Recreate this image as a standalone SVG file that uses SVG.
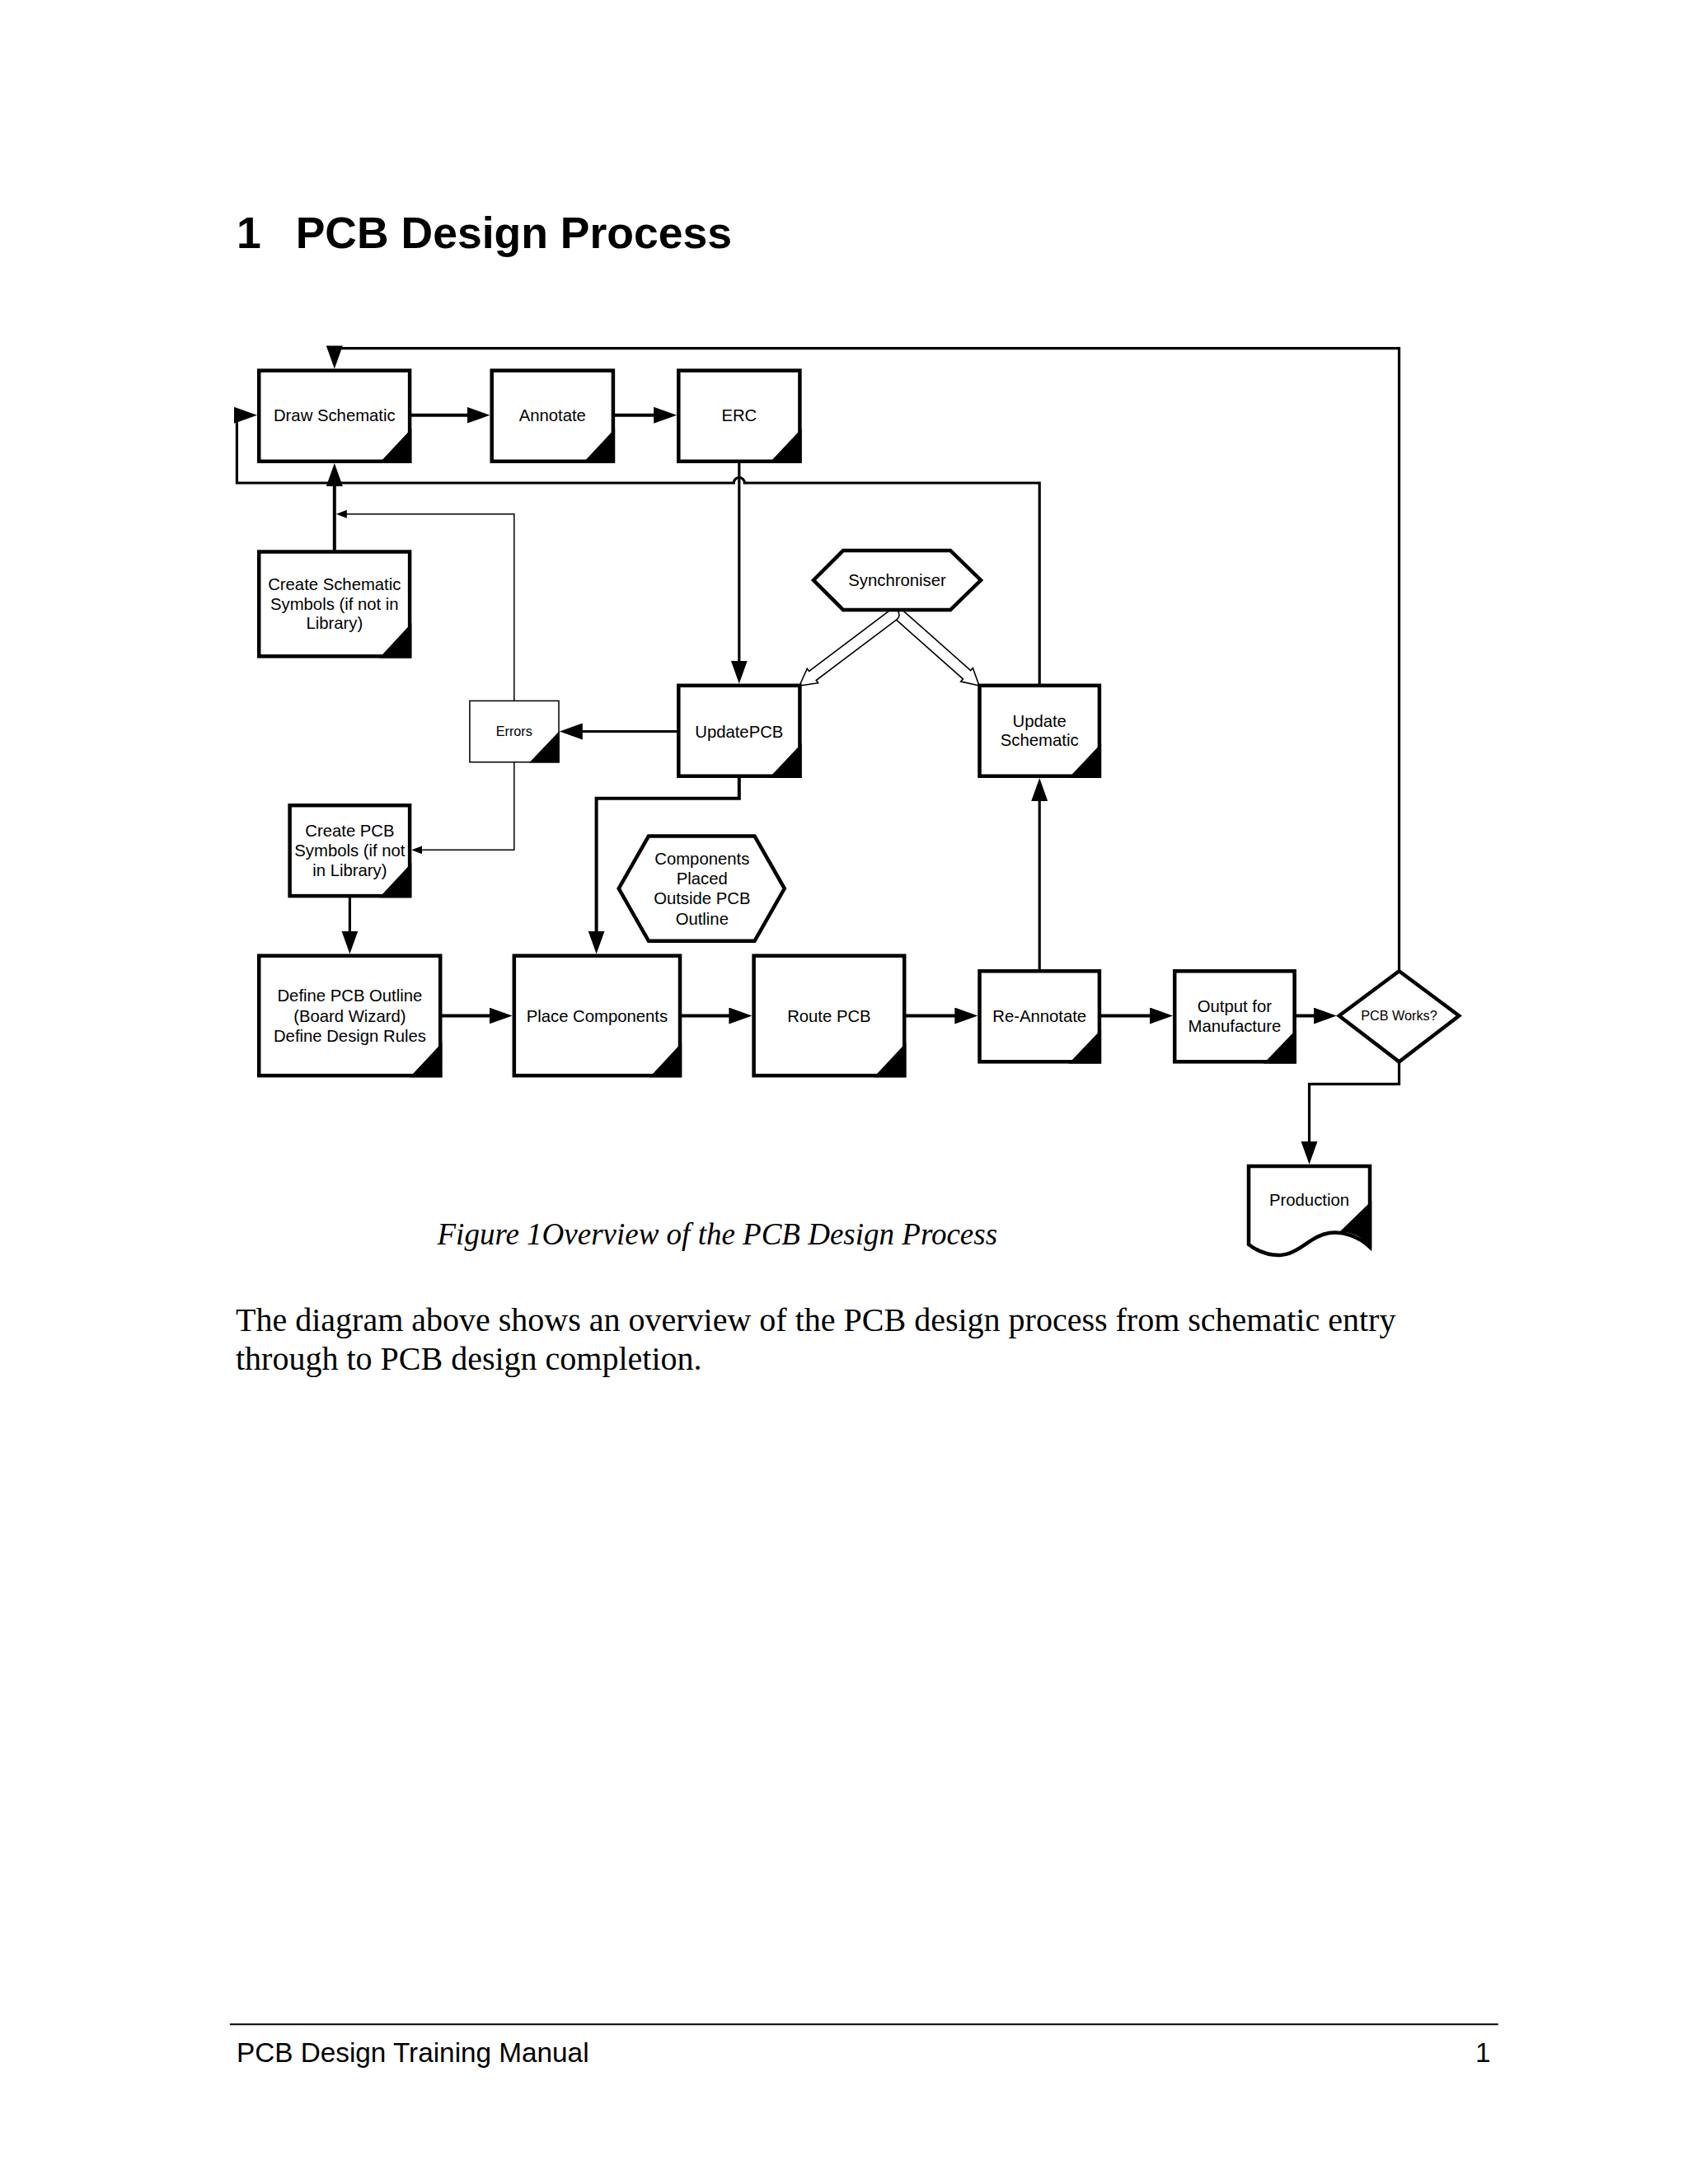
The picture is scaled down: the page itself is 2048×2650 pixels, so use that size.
<svg xmlns="http://www.w3.org/2000/svg" width="2048" height="2650" viewBox="0 0 2048 2650">
<style>
.box{fill:#fff;stroke:#000;stroke-width:4.5}
.tbox{fill:#fff;stroke:#000;stroke-width:1.5}
.tri{fill:#000;stroke:none}
.lbl{font-family:"Liberation Sans",Arial,sans-serif;font-size:20.3px;text-anchor:middle;fill:#000}
.sm{font-size:16.2px}
.c{fill:none;stroke:#000;stroke-width:4}
.c3{fill:none;stroke:#000;stroke-width:3.2}
.thin{fill:none;stroke:#000;stroke-width:1.5}
.hol{fill:#fff;stroke:#000;stroke-width:1.6;stroke-linejoin:miter}
</style>
<defs>
<marker id="ah" markerUnits="userSpaceOnUse" markerWidth="30" markerHeight="22" refX="6" refY="10" orient="auto">
<path d="M0,0 L28,10 L0,20 z" fill="#000"/>
</marker>
<marker id="ahs" markerUnits="userSpaceOnUse" markerWidth="14" markerHeight="12" refX="3" refY="5" orient="auto">
<path d="M0,0 L13,5 L0,10 z" fill="#000"/>
</marker>
</defs>
<rect x="0" y="0" width="2048" height="2650" fill="#fff"/>

<text x="287" y="301" font-family="Liberation Sans,Arial,sans-serif" font-weight="bold" font-size="53.5">1</text>
<text x="358.7" y="301" font-family="Liberation Sans,Arial,sans-serif" font-weight="bold" font-size="53.5">PCB Design Process</text>

<g id="connectors">
<path class="c3" d="M1697.5,1178.3 V422.7 H405.8 V425.4" marker-end="url(#ah)"/>
<path class="c" d="M497.1,503.8 H572.5" marker-end="url(#ah)"/>
<path class="c" d="M743.9,503.8 H799.1" marker-end="url(#ah)"/>
<path class="c3" d="M1261.2,831.8 V586 H903.3 a6.5,6.5 0 0 0 -13,0 H287.4 V503.8 H290" marker-end="url(#ah)"/>
<path class="c3" d="M896.8,559.8 V807.6" marker-end="url(#ah)"/>
<path class="c" d="M405.8,669.5 V584" marker-end="url(#ah)"/>
<path class="thin" d="M623.8,850.4 V623.8 H417.8" marker-end="url(#ahs)"/>
<path class="c3" d="M823.3,887.5 H700.8" marker-end="url(#ah)"/>
<path class="thin" d="M623.8,924.7 V1031.3 H509.3" marker-end="url(#ahs)"/>
<path class="c" d="M896.8,941.7 V968.7 H723.6 V1135.5" marker-end="url(#ah)"/>
<path class="c3" d="M424.4,1087.1 V1135.5" marker-end="url(#ah)"/>
<path class="c" d="M534.2,1232.5 H599.6" marker-end="url(#ah)"/>
<path class="c" d="M825,1232.5 H890.4" marker-end="url(#ah)"/>
<path class="c" d="M1097.2,1232.5 H1164.3" marker-end="url(#ah)"/>
<path class="c" d="M1333.9,1232.5 H1401" marker-end="url(#ah)"/>
<path class="c" d="M1570.6,1232.5 H1599.7" marker-end="url(#ah)"/>
<path class="c3" d="M1261.2,1178.3 V965.9" marker-end="url(#ah)"/>
<path class="c3" d="M1697.5,1288.3 V1315.4 H1588.5 V1390.8" marker-end="url(#ah)"/>
<path class="hol" d="M1095.6,740.8 L1177.7,813.5 L1180.3,810.5 L1188,832 L1165.7,826.9 L1168.4,823.9 L1086.4,751.2 A7,7 0 0 1 1095.6,740.8 Z"/>
<path class="hol" d="M1079.8,740.4 L981.7,814.4 L979.3,811.2 L970,832 L992.6,828.7 L990.2,825.5 L1088.2,751.6 A7,7 0 0 0 1079.8,740.4 Z"/>
</g>

<g id="draw-schematic">
<rect class="box" x="314.2" y="449.6" width="182.9" height="110.2"/>
<polygon class="tri" points="460,562 499.3,520 499.3,562"/>
<text class="lbl" x="405.8" y="511.3">Draw Schematic</text>
</g>
<g id="annotate">
<rect class="box" x="596.7" y="449.6" width="147.2" height="110.2"/>
<polygon class="tri" points="707,562 746.1,520 746.1,562"/>
<text class="lbl" x="670.3" y="511.3">Annotate</text>
</g>
<g id="erc">
<rect class="box" x="823.3" y="449.6" width="147.1" height="110.2"/>
<polygon class="tri" points="933,562 972.6,520 972.6,562"/>
<text class="lbl" x="896.8" y="511.3">ERC</text>
</g>
<g id="create-schematic-symbols">
<rect class="box" x="314.2" y="669.5" width="182.9" height="126.8"/>
<polygon class="tri" points="460,798.5 499.3,756 499.3,798.5"/>
<text class="lbl" x="405.8" y="715.9">Create Schematic</text>
<text class="lbl" x="405.8" y="739.6">Symbols (if not in</text>
<text class="lbl" x="405.8" y="763.4">Library)</text>
</g>
<g id="synchroniser">
<polygon class="box" points="987,704 1023,668 1153,668 1190,704 1153,740 1023,740"/>
<text class="lbl" x="1088.5" y="711">Synchroniser</text>
</g>
<g id="errors">
<rect class="tbox" x="569.9" y="850.4" width="108.1" height="74.3"/>
<polygon class="tri" points="642,925.5 678.7,887 678.7,925.5"/>
<text class="lbl sm" x="623.8" y="893.2">Errors</text>
</g>
<g id="update-pcb">
<rect class="box" x="823.3" y="831.8" width="147.1" height="109.9"/>
<polygon class="tri" points="933,943.9 972.6,902 972.6,943.9"/>
<text class="lbl" x="896.8" y="895.2">UpdatePCB</text>
</g>
<g id="update-schematic">
<rect class="box" x="1188.5" y="831.8" width="145.4" height="109.9"/>
<polygon class="tri" points="1296.5,943.9 1336.1,902 1336.1,943.9"/>
<text class="lbl" x="1261.2" y="881.6">Update</text>
<text class="lbl" x="1261.2" y="905.3">Schematic</text>
</g>
<g id="create-pcb-symbols">
<rect class="box" x="351.6" y="977.2" width="145.5" height="109.9"/>
<polygon class="tri" points="460,1089.3 499.3,1047 499.3,1089.3"/>
<text class="lbl" x="424.4" y="1015">Create PCB</text>
<text class="lbl" x="424.4" y="1038.7">Symbols (if not</text>
<text class="lbl" x="424.4" y="1063">in Library)</text>
</g>
<g id="components-outside">
<polygon class="box" points="750.7,1078.1 787,1014.4 915.5,1014.4 951.8,1078.1 915.5,1141.8 787,1141.8"/>
<text class="lbl" x="851.8" y="1048.8">Components</text>
<text class="lbl" x="851.8" y="1073">Placed</text>
<text class="lbl" x="851.8" y="1097.3">Outside PCB</text>
<text class="lbl" x="851.8" y="1121.5">Outline</text>
</g>
<g id="define-pcb-outline">
<rect class="box" x="314.2" y="1159.7" width="220" height="145.4"/>
<polygon class="tri" points="497,1307.3 536.4,1265 536.4,1307.3"/>
<text class="lbl" x="424.4" y="1214.5">Define PCB Outline</text>
<text class="lbl" x="424.4" y="1239.8">(Board Wizard)</text>
<text class="lbl" x="424.4" y="1264">Define Design Rules</text>
</g>
<g id="place-components">
<rect class="box" x="623.8" y="1159.7" width="201.2" height="145.4"/>
<polygon class="tri" points="788,1307.3 827.2,1265 827.2,1307.3"/>
<text class="lbl" x="724.4" y="1239.8">Place Components</text>
</g>
<g id="route-pcb">
<rect class="box" x="914.6" y="1159.7" width="182.6" height="145.4"/>
<polygon class="tri" points="1060,1307.3 1099.4,1265 1099.4,1307.3"/>
<text class="lbl" x="1005.9" y="1239.8">Route PCB</text>
</g>
<g id="re-annotate">
<rect class="box" x="1188.5" y="1178.3" width="145.4" height="110"/>
<polygon class="tri" points="1296.5,1290.5 1336.1,1249 1336.1,1290.5"/>
<text class="lbl" x="1261.2" y="1239.8">Re-Annotate</text>
</g>
<g id="output-for-manufacture">
<rect class="box" x="1425.2" y="1178.3" width="145.4" height="110"/>
<polygon class="tri" points="1533,1290.5 1572.8,1249 1572.8,1290.5"/>
<text class="lbl" x="1497.9" y="1228.1">Output for</text>
<text class="lbl" x="1497.9" y="1251.9">Manufacture</text>
</g>
<g id="pcb-works">
<polygon class="box" points="1624.7,1232.5 1697.5,1178.3 1770.2,1232.5 1697.5,1288.3"/>
<text class="lbl sm" x="1697.5" y="1238.3">PCB Works?</text>
</g>
<g id="production">
<path class="box" d="M1515,1510 V1415 H1662 V1513 C1648,1500 1630,1494 1613,1496 C1590,1499 1575,1523 1552,1523 C1537,1523 1524,1517 1515,1510 Z"/>
<path class="tri" d="M1664.2,1457 L1625,1495 C1640,1494 1652,1500 1664.2,1515 Z"/>
<text class="lbl" x="1588.5" y="1463">Production</text>
</g>

<text x="530.5" y="1509.5" font-family="Liberation Serif,'Times New Roman',serif" font-style="italic" font-size="37">Figure 1Overview of the PCB Design Process</text>
<text x="286" y="1614.6" font-family="Liberation Serif,'Times New Roman',serif" font-size="40">The diagram above shows an overview of the PCB design process from schematic entry</text>
<text x="286" y="1662" font-family="Liberation Serif,'Times New Roman',serif" font-size="40">through to PCB design completion.</text>

<line x1="278.9" y1="2456.3" x2="1817.7" y2="2456.3" stroke="#000" stroke-width="2"/>
<text x="287" y="2501.8" font-family="Liberation Sans,Arial,sans-serif" font-size="33.3">PCB Design Training Manual</text>
<text x="1808.6" y="2501.8" font-family="Liberation Sans,Arial,sans-serif" font-size="33.3" text-anchor="end">1</text>
</svg>
